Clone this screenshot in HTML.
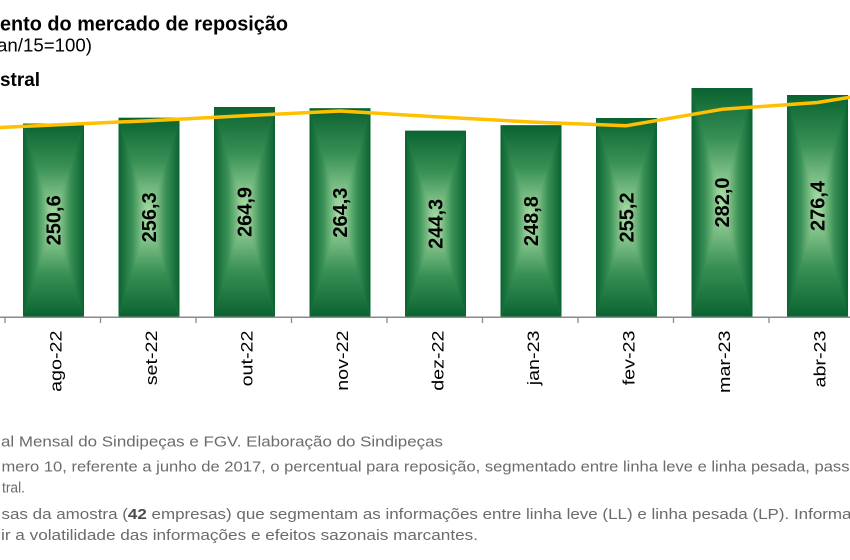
<!DOCTYPE html>
<html>
<head>
<meta charset="utf-8">
<style>
  html,body{margin:0;padding:0;background:#ffffff;}
  body{width:850px;height:560px;overflow:hidden;}
  svg{display:block;font-family:"Liberation Sans",Arial,sans-serif;}
</style>
</head>
<body>
<svg width="850" height="560" viewBox="0 0 850 560" xmlns="http://www.w3.org/2000/svg">
  <defs>
    <linearGradient id="gT" x1="0" y1="0" x2="0" y2="1">
      <stop offset="0" stop-color="#0a6230"/>
      <stop offset="0.45" stop-color="#3a9156"/>
      <stop offset="1" stop-color="#b3e4ad"/>
    </linearGradient>
    <linearGradient id="gB" x1="0" y1="1" x2="0" y2="0">
      <stop offset="0" stop-color="#0a6230"/>
      <stop offset="0.45" stop-color="#3a9156"/>
      <stop offset="1" stop-color="#b3e4ad"/>
    </linearGradient>
    <linearGradient id="gL" x1="0" y1="0" x2="1" y2="0">
      <stop offset="0" stop-color="#0a6230"/>
      <stop offset="0.45" stop-color="#3a9156"/>
      <stop offset="1" stop-color="#b3e4ad"/>
    </linearGradient>
    <linearGradient id="gR" x1="1" y1="0" x2="0" y2="0">
      <stop offset="0" stop-color="#0a6230"/>
      <stop offset="0.45" stop-color="#3a9156"/>
      <stop offset="1" stop-color="#b3e4ad"/>
    </linearGradient>
  </defs>

  <!-- Titles -->
  <text x="0" y="30.5" font-size="20" font-weight="bold" fill="#000" textLength="288" lengthAdjust="spacingAndGlyphs">ento do mercado de reposição</text>
  <text x="-3" y="51.5" font-size="18.5" fill="#000" textLength="95" lengthAdjust="spacingAndGlyphs">an/15=100)</text>
  <text x="0" y="86" font-size="19.5" font-weight="bold" fill="#000" textLength="40" lengthAdjust="spacingAndGlyphs">stral</text>

  <!-- Bars -->
  <g>
    <!-- ago-22 -->
    <rect x="23" y="123.6" width="61" height="193.4" fill="#2f8a4c"/>
    <polygon points="23,123.6 84,123.6 53.5,220.3" fill="url(#gT)"/>
    <polygon points="23,317 84,317 53.5,220.3" fill="url(#gB)"/>
    <polygon points="23,123.6 53.5,220.3 23,317" fill="url(#gL)"/>
    <polygon points="84,123.6 53.5,220.3 84,317" fill="url(#gR)"/>
    <!-- set-22 -->
    <rect x="118.5" y="117.8" width="61" height="199.2" fill="#2f8a4c"/>
    <polygon points="118.5,117.8 179.5,117.8 149,217.4" fill="url(#gT)"/>
    <polygon points="118.5,317 179.5,317 149,217.4" fill="url(#gB)"/>
    <polygon points="118.5,117.8 149,217.4 118.5,317" fill="url(#gL)"/>
    <polygon points="179.5,117.8 149,217.4 179.5,317" fill="url(#gR)"/>
    <!-- out-22 -->
    <rect x="214" y="107" width="61" height="210" fill="#2f8a4c"/>
    <polygon points="214,107 275,107 244.5,212" fill="url(#gT)"/>
    <polygon points="214,317 275,317 244.5,212" fill="url(#gB)"/>
    <polygon points="214,107 244.5,212 214,317" fill="url(#gL)"/>
    <polygon points="275,107 244.5,212 275,317" fill="url(#gR)"/>
    <!-- nov-22 -->
    <rect x="309.5" y="108.3" width="61" height="208.7" fill="#2f8a4c"/>
    <polygon points="309.5,108.3 370.5,108.3 340,212.65" fill="url(#gT)"/>
    <polygon points="309.5,317 370.5,317 340,212.65" fill="url(#gB)"/>
    <polygon points="309.5,108.3 340,212.65 309.5,317" fill="url(#gL)"/>
    <polygon points="370.5,108.3 340,212.65 370.5,317" fill="url(#gR)"/>
    <!-- dez-22 -->
    <rect x="405" y="130.7" width="61" height="186.3" fill="#2f8a4c"/>
    <polygon points="405,130.7 466,130.7 435.5,223.85" fill="url(#gT)"/>
    <polygon points="405,317 466,317 435.5,223.85" fill="url(#gB)"/>
    <polygon points="405,130.7 435.5,223.85 405,317" fill="url(#gL)"/>
    <polygon points="466,130.7 435.5,223.85 466,317" fill="url(#gR)"/>
    <!-- jan-23 -->
    <rect x="500.5" y="125.3" width="61" height="191.7" fill="#2f8a4c"/>
    <polygon points="500.5,125.3 561.5,125.3 531,221.15" fill="url(#gT)"/>
    <polygon points="500.5,317 561.5,317 531,221.15" fill="url(#gB)"/>
    <polygon points="500.5,125.3 531,221.15 500.5,317" fill="url(#gL)"/>
    <polygon points="561.5,125.3 531,221.15 561.5,317" fill="url(#gR)"/>
    <!-- fev-23 -->
    <rect x="596" y="118" width="61" height="199" fill="#2f8a4c"/>
    <polygon points="596,118 657,118 626.5,217.5" fill="url(#gT)"/>
    <polygon points="596,317 657,317 626.5,217.5" fill="url(#gB)"/>
    <polygon points="596,118 626.5,217.5 596,317" fill="url(#gL)"/>
    <polygon points="657,118 626.5,217.5 657,317" fill="url(#gR)"/>
    <!-- mar-23 -->
    <rect x="691.5" y="88" width="61" height="229" fill="#2f8a4c"/>
    <polygon points="691.5,88 752.5,88 722,202.5" fill="url(#gT)"/>
    <polygon points="691.5,317 752.5,317 722,202.5" fill="url(#gB)"/>
    <polygon points="691.5,88 722,202.5 691.5,317" fill="url(#gL)"/>
    <polygon points="752.5,88 722,202.5 752.5,317" fill="url(#gR)"/>
    <!-- abr-23 -->
    <rect x="787" y="95" width="61" height="222" fill="#2f8a4c"/>
    <polygon points="787,95 848,95 817.5,206" fill="url(#gT)"/>
    <polygon points="787,317 848,317 817.5,206" fill="url(#gB)"/>
    <polygon points="787,95 817.5,206 787,317" fill="url(#gL)"/>
    <polygon points="848,95 817.5,206 848,317" fill="url(#gR)"/>
  </g>

  <!-- Bar value labels -->
  <g font-size="20" font-weight="bold" fill="#000" text-anchor="middle">
    <text transform="translate(60.5,220.3) rotate(-90)">250,6</text>
    <text transform="translate(156,217.4) rotate(-90)">256,3</text>
    <text transform="translate(251.5,212) rotate(-90)">264,9</text>
    <text transform="translate(347,212.65) rotate(-90)">264,3</text>
    <text transform="translate(442.5,223.85) rotate(-90)">244,3</text>
    <text transform="translate(538,221.15) rotate(-90)">248,8</text>
    <text transform="translate(633.5,217.5) rotate(-90)">255,2</text>
    <text transform="translate(729,202.5) rotate(-90)">282,0</text>
    <text transform="translate(824.5,206) rotate(-90)">276,4</text>
  </g>

  <!-- Yellow line -->
  <polyline points="-42,129.5 53.5,125 149,120.7 244.5,115.7 340,111 435.5,116.7 531,122 626.5,125.7 722,109.3 817.5,102.5 913,87"
            fill="none" stroke="#FFC000" stroke-width="3.5" stroke-linejoin="round"/>

  <!-- X axis -->
  <line x1="0" y1="317.3" x2="850" y2="317.3" stroke="#8a8a8a" stroke-width="1.5"/>
  <g stroke="#8a8a8a" stroke-width="1.3">
    <line x1="5" y1="317" x2="5" y2="323"/>
    <line x1="100.5" y1="317" x2="100.5" y2="323"/>
    <line x1="196" y1="317" x2="196" y2="323"/>
    <line x1="291.5" y1="317" x2="291.5" y2="323"/>
    <line x1="387" y1="317" x2="387" y2="323"/>
    <line x1="482.5" y1="317" x2="482.5" y2="323"/>
    <line x1="578" y1="317" x2="578" y2="323"/>
    <line x1="673.5" y1="317" x2="673.5" y2="323"/>
    <line x1="769" y1="317" x2="769" y2="323"/>
  </g>

  <!-- X labels -->
  <g font-size="17" fill="#000" text-anchor="end">
    <text transform="translate(61.5,330.5) rotate(-90) scale(1.16,1)">ago-22</text>
    <text transform="translate(157,330.5) rotate(-90) scale(1.16,1)">set-22</text>
    <text transform="translate(252.5,330.5) rotate(-90) scale(1.16,1)">out-22</text>
    <text transform="translate(348,330.5) rotate(-90) scale(1.16,1)">nov-22</text>
    <text transform="translate(443.5,330.5) rotate(-90) scale(1.16,1)">dez-22</text>
    <text transform="translate(539,330.5) rotate(-90) scale(1.16,1)">jan-23</text>
    <text transform="translate(634.5,330.5) rotate(-90) scale(1.16,1)">fev-23</text>
    <text transform="translate(730,330.5) rotate(-90) scale(1.16,1)">mar-23</text>
    <text transform="translate(825.5,330.5) rotate(-90) scale(1.16,1)">abr-23</text>
  </g>

  <!-- Footnotes -->
  <g font-size="14.5" fill="#6b6b6b">
    <text x="1" y="446.7" textLength="442" lengthAdjust="spacingAndGlyphs">al Mensal do Sindipeças e FGV. Elaboração do Sindipeças</text>
    <text x="1.5" y="471.5" textLength="848" lengthAdjust="spacingAndGlyphs">mero 10, referente a junho de 2017, o percentual para reposição, segmentado entre linha leve e linha pesada, pass</text>
    <text x="2" y="492.7" textLength="23" lengthAdjust="spacingAndGlyphs">tral.</text>
    <text x="1.5" y="519" textLength="850" lengthAdjust="spacingAndGlyphs">sas da amostra (<tspan font-weight="bold" fill="#4a4a4a">42</tspan>  empresas) que segmentam as informações entre linha leve (LL) e linha pesada (LP). Informa</text>
    <text x="1" y="540" textLength="477" lengthAdjust="spacingAndGlyphs">ir a volatilidade das informações e efeitos sazonais marcantes.</text>
  </g>
</svg>
</body>
</html>
